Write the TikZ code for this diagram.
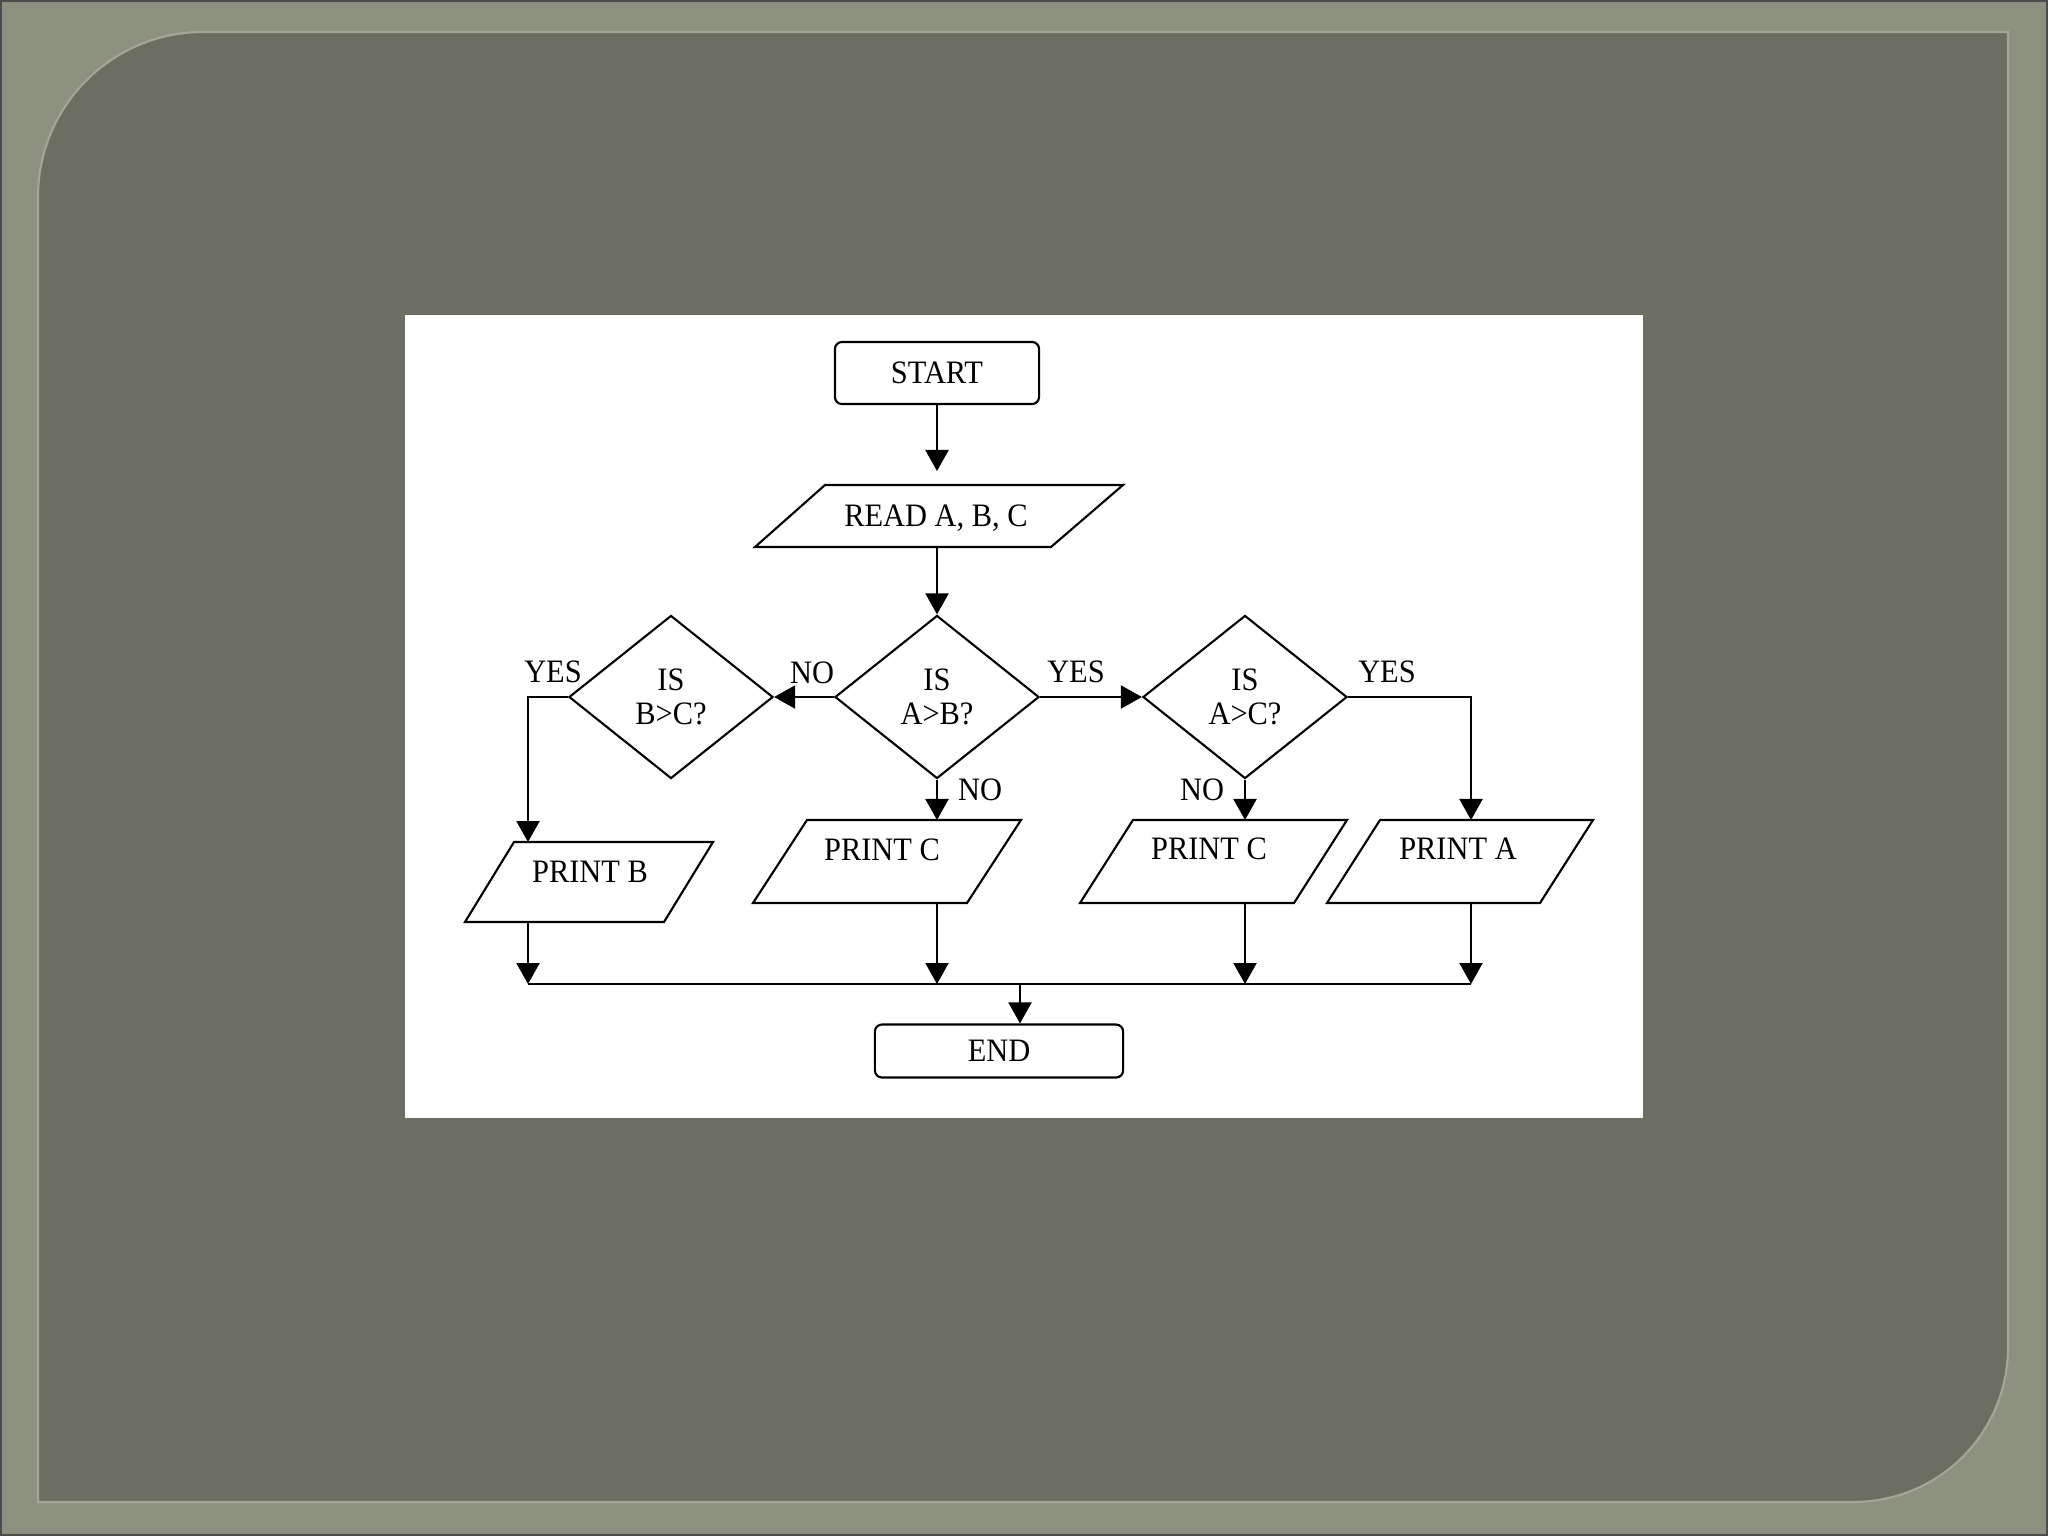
\documentclass[tikz,border=0pt]{standalone}
\usepackage{fontspec}
\setmainfont{Liberation Serif}[FakeStretch=0.93]
\usetikzlibrary{shapes.geometric,arrows.meta,calc}
\definecolor{frameouter}{HTML}{8D9180}
\definecolor{panel}{HTML}{6B6E60}
\definecolor{panelhi}{HTML}{A4A796}
\newcommand\flowfont{\fontsize{9.3pt}{9.7pt}\selectfont}
\tikzset{
  flow/.style={line width=0.6pt, draw=black},
  arr/.style={flow, -{Triangle[width=0.23cm,length=0.21cm]}},
  term/.style={flow, rectangle, rounded corners=0.07cm, inner sep=0pt, font=\flowfont, fill=white},
  dec/.style={flow, diamond, aspect=1, inner sep=0pt, minimum width=2.04cm, minimum height=1.63cm, align=center, font=\flowfont},
  txt/.style={inner sep=0pt, font=\flowfont, anchor=base},
  lbl/.style={inner sep=0pt, font=\flowfont, anchor=base},
}
\begin{document}
\begin{tikzpicture}[x=0.01cm,y=-0.01cm]
\useasboundingbox (0,0) rectangle (2048,1536);
% background frame
\fill[frameouter] (0,0) rectangle (2048,1536);
\draw[black!70, line width=1pt] (0,0) rectangle (2048,1536);
\fill[panel] (38,1502) -- (38,197) .. controls (38,106) and (112,32) .. (203,32) -- (2008,32) -- (2008,1347) .. controls (2008,1433) and (1939,1502) .. (1853,1502) -- cycle;
\draw[panelhi, line width=0.6pt] (38,1502) -- (38,197) .. controls (38,106) and (112,32) .. (203,32) -- (2008,32) -- (2008,1347) .. controls (2008,1433) and (1939,1502) .. (1853,1502) -- cycle;
% white picture area
\fill[white] (405,315) rectangle (1643,1118);

% terminals
\node[term, minimum width=2.04cm, minimum height=0.62cm] (start) at (937,373) {START};
\node[term, minimum width=2.48cm, minimum height=0.53cm] (end) at (999,1051) {END};

% read
\draw[flow] (755,547) -- (825,485) -- (1123,485) -- (1051,547) -- cycle;
\node[txt] (read) at (936,526) {READ A, B, C};

% decisions
\node[dec] (d1) at (937,697) {IS\\A>B?};
\node[dec] (d2) at (671,697) {IS\\B>C?};
\node[dec] (d3) at (1245,697) {IS\\A>C?};

% outputs
\draw[flow] (465,922) -- (514,842) -- (713,842) -- (664,922) -- cycle;
\node[txt] (pb) at (590,882) {PRINT B};
\draw[flow] (753,903) -- (807,820) -- (1021,820) -- (967,903) -- cycle;
\node[txt] (pc1) at (882,860) {PRINT C};
\draw[flow] (1080,903) -- (1133,820) -- (1347,820) -- (1294,903) -- cycle;
\node[txt] (pc2) at (1209,859) {PRINT C};
\draw[flow] (1327,903) -- (1380,820) -- (1593,820) -- (1540,903) -- cycle;
\node[txt] (pa) at (1458,859) {PRINT A};

% attach points
\coordinate (read-n) at (937,485);
\coordinate (read-s) at (937,547);
\coordinate (pb-n) at (528,842);
\coordinate (pb-s) at (528,922);
\coordinate (pc1-n) at (937,820);
\coordinate (pc1-s) at (937,903);
\coordinate (pc2-n) at (1245,820);
\coordinate (pc2-s) at (1245,903);
\coordinate (pa-n) at (1471,820);
\coordinate (pa-s) at (1471,903);
\coordinate (j1) at (528,984);
\coordinate (j2) at (937,984);
\coordinate (j3) at (1245,984);
\coordinate (j4) at (1471,984);
\coordinate (jend) at (1020,984);

% connectors
\draw[arr, shorten >=0.14cm] (start.south) -- (read-n);
\draw[arr] (read-s) -- (d1.north);
\draw[arr] (d1.west) -- (d2.east);
\draw[arr] (d1.east) -- (d3.west);
\draw[arr] (d2.west) -| (pb-n);
\draw[arr] (d1.south) -- (pc1-n);
\draw[arr] (d3.south) -- (pc2-n);
\draw[arr] (d3.east) -| (pa-n);
\draw[arr] (pb-s) -- (j1);
\draw[arr] (pc1-s) -- (j2);
\draw[arr] (pc2-s) -- (j3);
\draw[arr] (pa-s) -- (j4);
\draw[flow] (j1) -- (j4);
\draw[arr] (jend) -- (jend |- end.north);

% branch labels
\node[lbl] (l1) at (553,682) {YES};
\node[lbl] (l2) at (812,683) {NO};
\node[lbl] (l3) at (1076,682) {YES};
\node[lbl] (l4) at (1387,682) {YES};
\node[lbl] (l5) at (980,800) {NO};
\node[lbl] (l6) at (1202,800) {NO};
\end{tikzpicture}
\end{document}
